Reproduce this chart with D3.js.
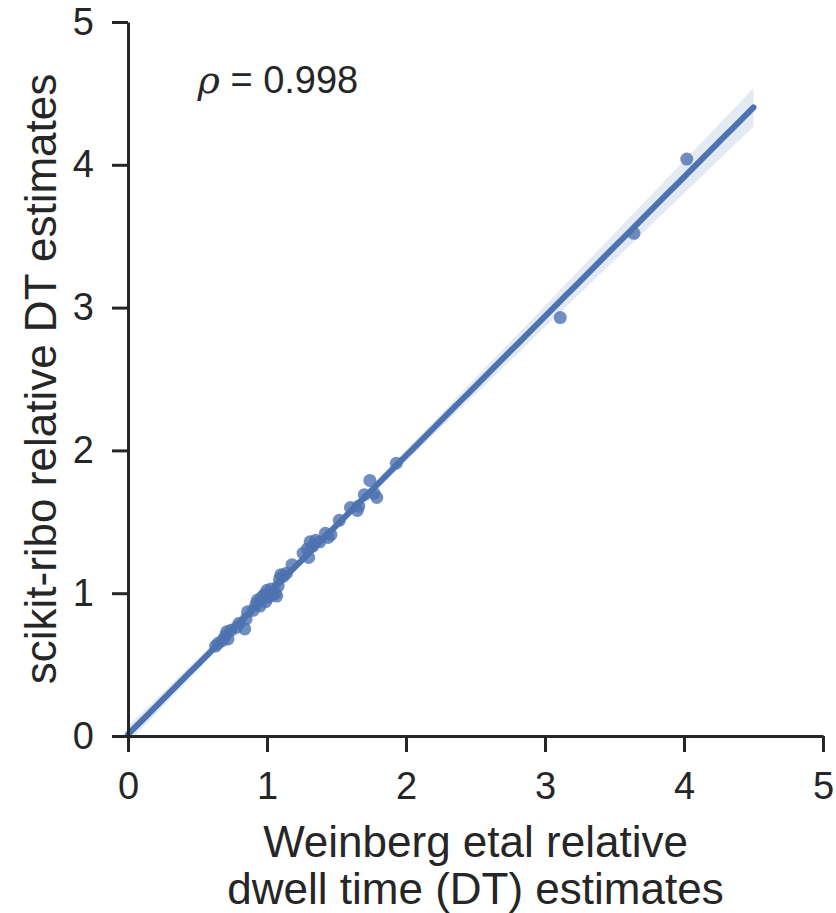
<!DOCTYPE html>
<html>
<head>
<meta charset="utf-8">
<script src="https://cdn.jsdelivr.net/npm/d3@7"></script>
<style>
  body { margin: 0; background: #fff; }
  text { font-family: "Liberation Sans", Arial, sans-serif; fill: #262626; }
</style>
</head>
<body>
<svg id="chart" width="836" height="913"></svg>
<script>
// Weinberg et al relative DT (x) vs scikit-ribo relative DT (y)
const weinberg = [0.63, 0.65, 0.68, 0.70, 0.71, 0.72, 0.74, 0.78, 0.80, 0.84,
    0.85, 0.86, 0.90, 0.92, 0.93, 0.95, 0.96, 0.98, 0.99, 1.00,
    1.01, 1.03, 1.04, 1.06, 1.07, 1.08, 1.09, 1.10, 1.12, 1.14,
    1.18, 1.26, 1.29, 1.30, 1.31, 1.33, 1.35, 1.38, 1.42, 1.44,
    1.46, 1.52, 1.60, 1.65, 1.66, 1.70, 1.74, 1.77, 1.79, 1.93,
    3.11, 3.64, 4.02];
const scikit = [0.63, 0.65, 0.67, 0.70, 0.73, 0.68, 0.74, 0.76, 0.79, 0.75,
    0.82, 0.87, 0.88, 0.92, 0.95, 0.91, 0.97, 0.99, 0.94, 1.02,
    0.97, 1.03, 0.99, 1.00, 0.98, 1.05, 1.10, 1.13, 1.12, 1.14,
    1.20, 1.28, 1.31, 1.25, 1.36, 1.33, 1.37, 1.36, 1.42, 1.39,
    1.41, 1.51, 1.60, 1.58, 1.61, 1.69, 1.79, 1.70, 1.67, 1.91,
    2.93, 3.52, 4.04];
const xTicks = [0, 1, 2, 3, 4, 5];
const yTicks = [0, 1, 2, 3, 4, 5];
const rhoLabel = "0.998";

const blue = "#4c72b0";
const svg = d3.select("#chart");
const margin = {left: 128, top: 22, right: 13, bottom: 177};
const W = 836 - margin.left - margin.right;
const H = 913 - margin.top - margin.bottom;

const x = d3.scaleLinear().domain([0, 5]).range([0, W]);
const y = d3.scaleLinear().domain([0, 5]).range([H, 0]);

const g = svg.append("g").attr("transform", "translate(" + margin.left + "," + margin.top + ")");

// least squares fit
const pts = weinberg.map((d, i) => [d, scikit[i]]);
const n = pts.length;
const mx = d3.mean(weinberg), my = d3.mean(scikit);
const sxx = d3.sum(weinberg, d => (d - mx) * (d - mx));
const sxy = d3.sum(pts, d => (d[0] - mx) * (d[1] - my));
const slope = sxy / sxx;
const icpt = my - slope * mx;
const resid = d3.sum(pts, d => Math.pow(d[1] - (icpt + slope * d[0]), 2));
const s = Math.sqrt(resid / (n - 2));

// band a bit wider than the analytic CI (seaborn bootstraps it)
const grid = d3.range(0, 4.5001, 0.05);
const band = grid.map(v => {
    const fit = icpt + slope * v;
    const se = 1.96 * 2.4 * s * Math.sqrt(1 / n + (v - mx) * (v - mx) / sxx);
    return {x: v, lo: fit - se, hi: fit + se, fit: fit};
});

g.append("path")
    .datum(band)
    .attr("d", d3.area().x(d => x(d.x)).y0(d => y(d.lo)).y1(d => y(d.hi)))
    .style("fill", blue)
    .style("fill-opacity", 0.15);

g.selectAll("circle.pt").data(pts).enter()
    .append("circle")
    .attr("class", "pt")
    .attr("cx", d => x(d[0]))
    .attr("cy", d => y(d[1]))
    .attr("r", 6.5)
    .style("fill", blue)
    .style("fill-opacity", 0.8);

g.append("path")
    .datum(band)
    .attr("d", d3.line().x(d => x(d.x)).y(d => y(d.fit)))
    .style("fill", "none")
    .style("stroke", blue)
    .style("stroke-width", 6)
    .style("stroke-linecap", "round");

// axes
const xAxis = g.append("g")
    .attr("transform", "translate(0," + H + ")")
    .call(d3.axisBottom(x).tickValues(xTicks).tickFormat(d3.format("d")).tickSize(16).tickSizeOuter(0).tickPadding(20));
const yAxis = g.append("g")
    .call(d3.axisLeft(y).tickValues(yTicks).tickFormat(d3.format("d")).tickSize(16).tickSizeOuter(0).tickPadding(18));
[xAxis, yAxis].forEach(a => {
    a.select(".domain").style("stroke", "#262626").style("stroke-width", 3);
    a.selectAll(".tick line").style("stroke", "#262626").style("stroke-width", 3);
    a.selectAll(".tick text").style("font-size", "38px").style("font-family", "Liberation Sans, Arial, sans-serif").attr("fill", "#262626");
});

// rho annotation
const rho = g.append("text")
    .attr("x", x(0.5))
    .attr("y", 71)
    .style("font-size", "38px");
rho.append("tspan").style("font-style", "italic").style("font-family", "DejaVu Serif, serif").text("ρ");
rho.append("tspan").text(" = " + rhoLabel);

// axis labels
const xl = svg.append("text")
    .attr("text-anchor", "middle")
    .style("font-size", "44px");
xl.append("tspan").attr("x", margin.left + x(2.5)).attr("y", 857).text("Weinberg etal relative");
xl.append("tspan").attr("x", margin.left + x(2.5)).attr("y", 904).text("dwell time (DT) estimates");

svg.append("text")
    .attr("text-anchor", "middle")
    .attr("transform", "translate(56," + (margin.top + H / 2) + ") rotate(-90)")
    .style("font-size", "44px")
    .text("scikit-ribo relative DT estimates");
</script>
</body>
</html>
